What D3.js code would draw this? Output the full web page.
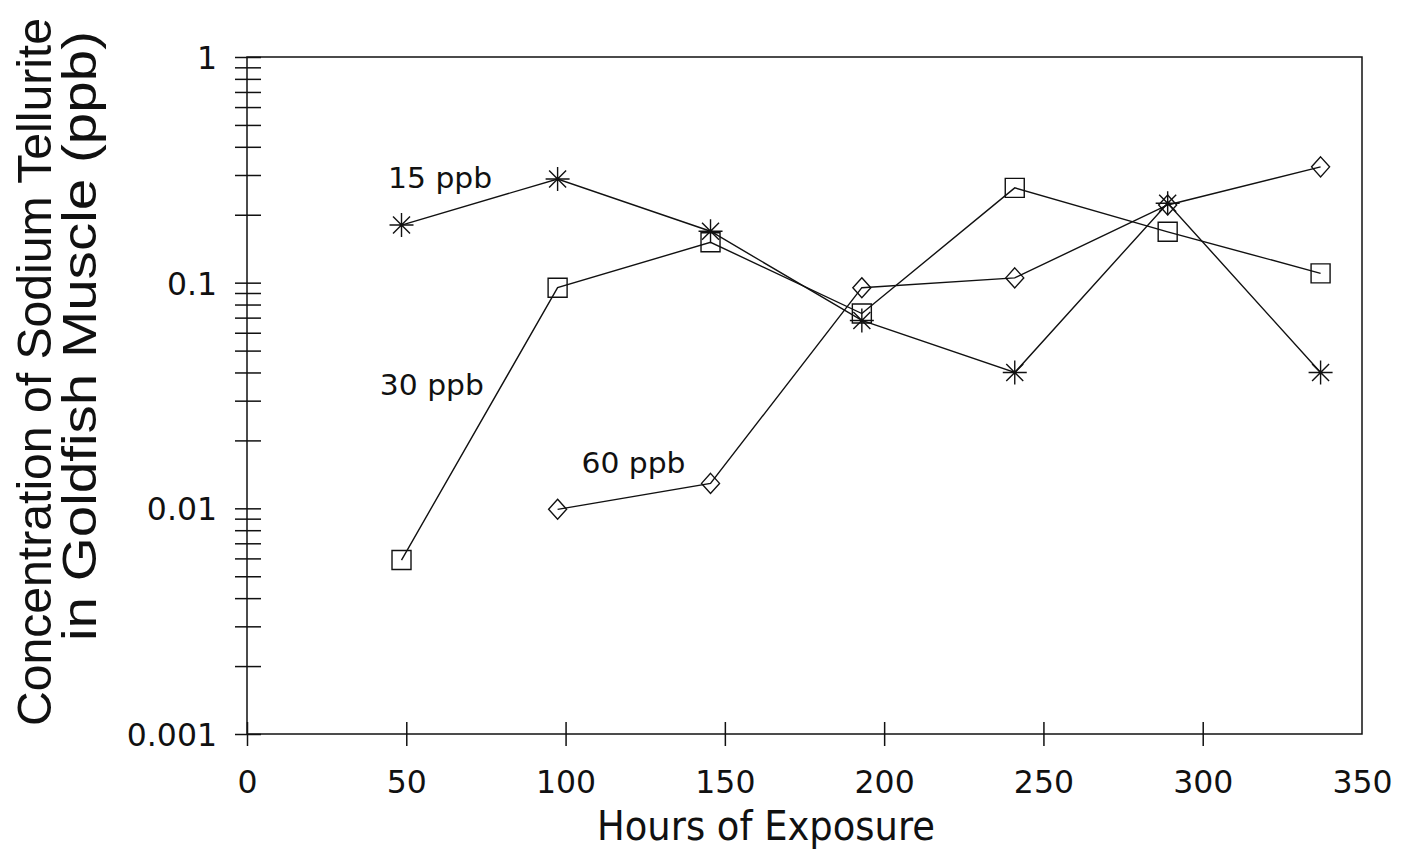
<!DOCTYPE html>
<html>
<head>
<meta charset="utf-8">
<script src="https://cdn.jsdelivr.net/npm/d3@7"></script>
<style>
  html, body { margin: 0; padding: 0; background: #fff; }
  svg { display: block; }
  .tick text { font-family: "DejaVu Sans", sans-serif; fill: #111; }
</style>
</head>
<body>
<div id="chart"></div>
<script>
// ---- data ----
const hours = [48.5, 97.5, 145.5, 193, 241, 289, 337];
const conc15 = [0.18, 0.288, 0.169, 0.068, 0.040, 0.225, 0.040];
const conc30 = [0.0059, 0.095, 0.151, 0.073, 0.263, 0.168, 0.110];
const conc60 = [null, 0.0099, 0.0129, 0.095, 0.105, 0.221, 0.326];

const seriesNames = ["15 ppb", "30 ppb", "60 ppb"];
const seriesMarkers = ["asterisk", "square", "diamond"];
// label anchors in data units (hours, ppb)
const labelHours = [44.3, 41.7, 105];
const labelConc = [0.263, 0.0318, 0.0144];

const xTicks = [0, 50, 100, 150, 200, 250, 300];
const xLabels = [0, 50, 100, 150, 200, 250, 300, 350];
const yMajor = [1, 0.1, 0.01, 0.001];
const yMajorLabels = ["1", "0.1", "0.01", "0.001"];

// ---- layout ----
const W = 1414, H = 853;
const plotLeft = 247, plotRight = 1362, plotTop = 57, plotBottom = 734;

const svg = d3.select("#chart").append("svg")
  .attr("width", W)
  .attr("height", H);

const x = d3.scaleLinear().domain([0, 350]).range([plotLeft, plotRight]);
const y = d3.scaleLog().domain([0.001, 1]).range([plotBottom, plotTop]);

// minor log ticks 2..9 in each decade
const yMinor = [];
[0.001, 0.01, 0.1].forEach((d) => {
  for (let k = 2; k <= 9; k++) yMinor.push(+(d * k).toPrecision(3));
});
const yAll = yMajor.concat(yMinor);

// frame
svg.append("rect")
  .attr("x", plotLeft).attr("y", plotTop)
  .attr("width", plotRight - plotLeft).attr("height", plotBottom - plotTop)
  .attr("fill", "none").attr("stroke", "#111").attr("stroke-width", 1.5);

// y axis
const yAxis = svg.append("g")
  .attr("transform", `translate(${plotLeft},0)`)
  .call(d3.axisLeft(y)
    .tickValues(yAll)
    .tickSize(12)
    .tickPadding(18)
    .tickFormat((d) => {
      const i = yMajor.indexOf(d);
      return i >= 0 ? yMajorLabels[i] : "";
    }));
yAxis.select(".domain").remove();
yAxis.selectAll(".tick line")
  .attr("x1", 14)
  .attr("stroke", "#111").attr("stroke-width", 1.5);
yAxis.selectAll(".tick text")
  .attr("font-size", 31.5)
  .attr("dy", "0.36em");

// x axis
const xAxis = svg.append("g")
  .attr("transform", `translate(0,${plotBottom})`)
  .call(d3.axisBottom(x)
    .tickValues(xLabels)
    .tickSize(12)
    .tickPadding(25)
    .tickFormat(d3.format("d")));
xAxis.select(".domain").remove();
xAxis.selectAll(".tick line")
  .attr("y1", -12)
  .attr("stroke", "#111").attr("stroke-width", 1.5)
  .attr("display", (d) => xTicks.includes(d) ? null : "none");
xAxis.selectAll(".tick text")
  .attr("font-size", 31.5);

// axis titles
svg.append("text")
  .attr("x", 766)
  .attr("y", 840)
  .attr("text-anchor", "middle")
  .attr("font-family", "DejaVu Sans, sans-serif")
  .attr("font-size", 40)
  .attr("textLength", 338)
  .attr("lengthAdjust", "spacingAndGlyphs")
  .attr("fill", "#111")
  .text("Hours of Exposure");

svg.append("text")
  .attr("transform", "translate(51,372) rotate(-90)")
  .attr("text-anchor", "middle")
  .attr("font-family", "Liberation Sans, Arial, sans-serif")
  .attr("font-size", 49)
  .attr("textLength", 708)
  .attr("lengthAdjust", "spacingAndGlyphs")
  .attr("fill", "#111")
  .text("Concentration of Sodium Tellurite");

svg.append("text")
  .attr("transform", "translate(96,336) rotate(-90)")
  .attr("text-anchor", "middle")
  .attr("font-family", "Liberation Sans, Arial, sans-serif")
  .attr("font-size", 49)
  .attr("textLength", 610)
  .attr("lengthAdjust", "spacingAndGlyphs")
  .attr("fill", "#111")
  .text("in Goldfish Muscle (ppb)");

// series
const series = [conc15, conc30, conc60].map((vals, i) => ({
  name: seriesNames[i],
  marker: seriesMarkers[i],
  points: hours.map((h, j) => ({ h, v: vals[j] })).filter((p) => p.v != null),
}));

const line = d3.line()
  .x((d) => x(d.h))
  .y((d) => y(d.v));

const plot = svg.append("g");

plot.selectAll(".series-line")
  .data(series)
  .join("path")
  .attr("class", "series-line")
  .attr("d", (d) => line(d.points))
  .attr("fill", "none")
  .attr("stroke", "#111")
  .attr("stroke-width", 1.4);

function markerPath(type) {
  if (type === "square") return "M-9.5,-9.5H9.5V9.5H-9.5Z";
  if (type === "diamond") return "M0,-10L9,0L0,10L-9,0Z";
  // asterisk: 4 crossing strokes
  const r = 12, s = 8.5;
  return `M${-r},0H${r}M0,${-r}V${r}M${-s},${-s}L${s},${s}M${-s},${s}L${s},${-s}`;
}

series.forEach((s) => {
  plot.append("g")
    .selectAll("path")
    .data(s.points)
    .join("path")
    .attr("transform", (d) => `translate(${x(d.h)},${y(d.v)})`)
    .attr("d", markerPath(s.marker))
    .attr("fill", "none")
    .attr("stroke", "#111")
    .attr("stroke-width", 1.4);
});

// series labels
svg.append("g")
  .selectAll("text")
  .data(seriesNames)
  .join("text")
  .attr("x", (d, i) => x(labelHours[i]))
  .attr("y", (d, i) => y(labelConc[i]))
  .attr("font-family", "DejaVu Sans, sans-serif")
  .attr("font-size", 29)
  .attr("textLength", 104)
  .attr("lengthAdjust", "spacingAndGlyphs")
  .attr("fill", "#111")
  .text((d) => d);
</script>
</body>
</html>
